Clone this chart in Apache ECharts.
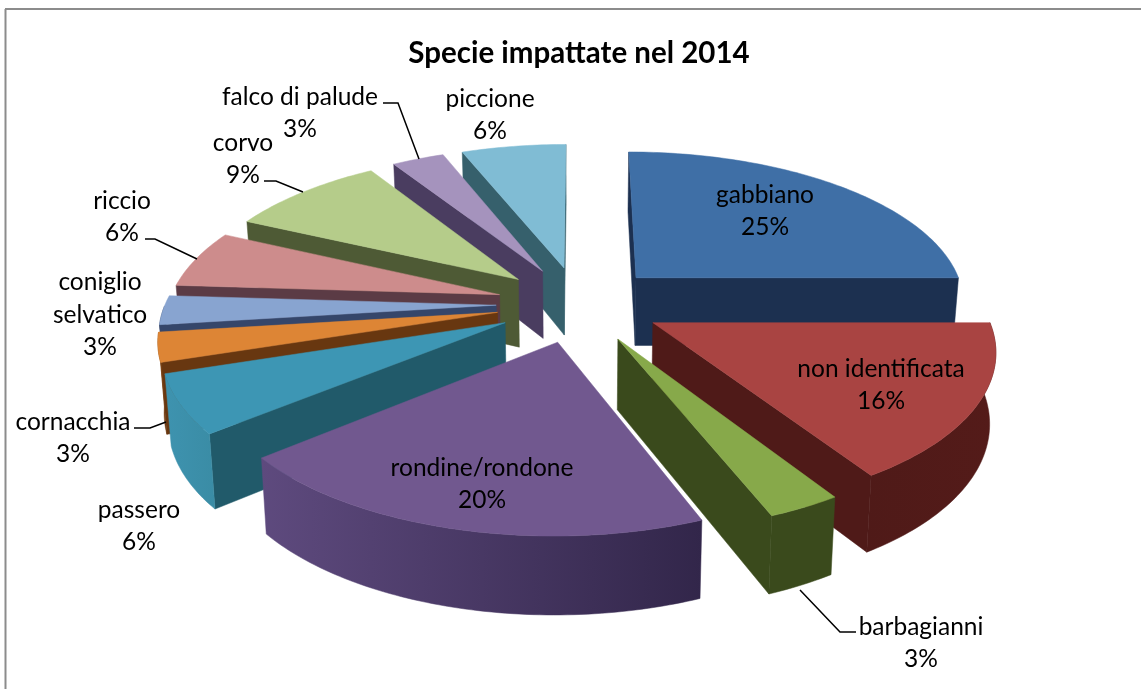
<!DOCTYPE html>
<html>
<head>
<meta charset="utf-8">
<title>Specie impattate nel 2014</title>
<script src="https://cdn.jsdelivr.net/npm/echarts@6/dist/echarts.min.js"></script>
<style>
  html, body { margin: 0; padding: 0; background: #fff; }
  #chart { width: 1141px; height: 689px; }
</style>
</head>
<body>
<div id="chart"></div>
<script>
// dati
const categories = ['gabbiano', 'non identificata', 'barbagianni', 'rondine/rondone', 'passero', 'cornacchia',
  'coniglio\nselvatico', 'riccio', 'corvo', 'falco di palude', 'piccione'];
const shares = [25, 16, 3, 20, 6, 3, 3, 6, 9, 3, 6];

// colori: superficie, pareti radiali, bordo esterno (sinistra, destra)
const topColors = ['#3f6fa6', '#a94442', '#87a94a', '#71588f', '#3d96b4', '#dd8535', '#88a4d0', '#cd8c8c', '#b5cc8a', '#a593bd', '#80bcd4'];
const wallColors = ['#1c3050', '#4f1a18', '#3a4a1c', '#5c4a7c', '#215a6a', '#683710', '#35466a', '#5b3b45', '#4e5a35', '#4a3d60', '#36606c'];
const rimColors = [['#1c3050', '#1c3050'], ['#4f1a18', '#541b19'], ['#3a4a1c', '#3a4a1c'], ['#5e4a7e', '#32264a'],
  ['#3e93af', '#3a8ca5'], ['#8a4a14', '#683710'], ['#35466a', '#35466a'], ['#5b3b45', '#5b3b45'], ['#4e5a35', '#4e5a35'], ['#4a3d60', '#4a3d60'], ['#36606c', '#36606c']];

// posizione delle etichette e linee guida
const labelSpots = [[765, 211], [881, 385], [921, 643], [482, 484], [139, 526], [73, 438], [100, 315], [122, 217], [243, 159], [300, 113], [490, 115]];
const leaders = {
  2: [[800, 590], [840, 632], [856, 632]],
  5: [[134, 428], [150, 428], [166, 422]],
  7: [[145, 239], [155, 239], [197, 259]],
  8: [[264, 181], [276, 181], [303, 192]],
  9: [[383, 103], [398, 103], [419, 159]]
};

// proiezione prospettica della torta
const cx = 579, cy = 304, rx = 331, ry = 152, persp = 0.15, explode = 0.25;
const project = (x, y, low) => {
  const w = 1 - persp * y;
  let sx = rx * x / w;
  let sy = cy + ry * y / w;
  if (low) {
    sx *= 0.985;
    sy += 69 + 8 * y;
  }
  return [cx + sx, sy];
};

const total = shares.reduce((a, b) => a + b, 0);
let acc = 0;
const slices = shares.map((v) => {
  const start = acc / total * Math.PI * 2;
  acc += v;
  return { start, end: acc / total * Math.PI * 2 };
});
// dal fondo verso chi guarda
const rank = slices.map((s, i) => [i, -Math.cos((s.start + s.end) / 2)])
  .sort((a, b) => a[1] - b[1]).map((r) => r[0]);

function renderSlice(params, api) {
  const i = params.dataIndex;
  const { start, end } = slices[i];
  const mid = (start + end) / 2;
  const ox = explode * Math.sin(mid), oy = -explode * Math.cos(mid);
  const at = (a, low) => project(ox + Math.sin(a), oy - Math.cos(a), low);
  const apex = project(ox, oy, false), apexLow = project(ox, oy, true);
  const z = rank.indexOf(i) * 10 + 1;

  const steps = Math.max(2, Math.ceil((end - start) / (Math.PI / 180)));
  const arc = [], rim = [];
  for (let s = 0; s <= steps; s++) {
    const a = start + (end - start) * s / steps;
    arc.push(at(a, false));
    const c = Math.cos(a);
    if (c <= 0.001) rim.push(a);
  }
  const children = [];
  const poly = (points, fill, zz) => children.push({
    type: 'polygon', shape: { points }, z2: zz,
    style: { fill, stroke: fill, lineWidth: 0.5 }
  });
  const first = arc[0], last = arc[arc.length - 1];
  // pareti radiali visibili solo se rivolte verso il basso dello schermo
  if (first[0] < apex[0]) poly([apex, first, at(start, true), apexLow], wallColors[i], z);
  if (apex[0] < last[0]) poly([last, apex, apexLow, at(end, true)], wallColors[i], z);
  if (rim.length > 1) {
    const upper = rim.map((a) => at(a, false));
    const lower = rim.map((a) => at(a, true)).reverse();
    poly(upper.concat(lower), new echarts.graphic.LinearGradient(0, 0, 1, 0, [
      { offset: 0, color: rimColors[i][0] },
      { offset: 1, color: rimColors[i][1] }
    ]), z + 1);
  }
  poly([apex].concat(arc), topColors[i], z + 2);

  if (leaders[i]) {
    children.push({
      type: 'polyline', shape: { points: leaders[i] }, z2: 500,
      style: { fill: null, stroke: '#000', lineWidth: 1.5 }
    });
  }
  children.push({
    type: 'text', z2: 600,
    style: {
      x: labelSpots[i][0], y: labelSpots[i][1],
      text: categories[i] + '\n' + api.value(0) + '%',
      align: 'center', verticalAlign: 'middle',
      fill: '#000', font: '24.5px Lato', lineHeight: 32.5
    }
  });
  return { type: 'group', children };
}

const myChart = echarts.init(document.getElementById('chart'));
myChart.setOption({
  animation: false,
  backgroundColor: '#fff',
  title: {
    text: 'Specie impattate nel 2014',
    left: 574, top: 33, textAlign: 'center',
    textStyle: { fontFamily: 'Lato', fontWeight: 'bold', fontSize: 29.5, color: '#000' }
  },
  graphic: [
    { type: 'line', silent: true, shape: { x1: 5.5, y1: 9, x2: 5.5, y2: 689 }, style: { stroke: '#8c8c8c', lineWidth: 2 } },
    { type: 'line', silent: true, shape: { x1: 5, y1: 9, x2: 1141, y2: 9 }, style: { stroke: '#8c8c8c', lineWidth: 2 } }
  ],
  series: [{
    type: 'custom',
    coordinateSystem: 'none',
    silent: true,
    data: shares,
    renderItem: renderSlice
  }]
});
</script>
</body>
</html>
